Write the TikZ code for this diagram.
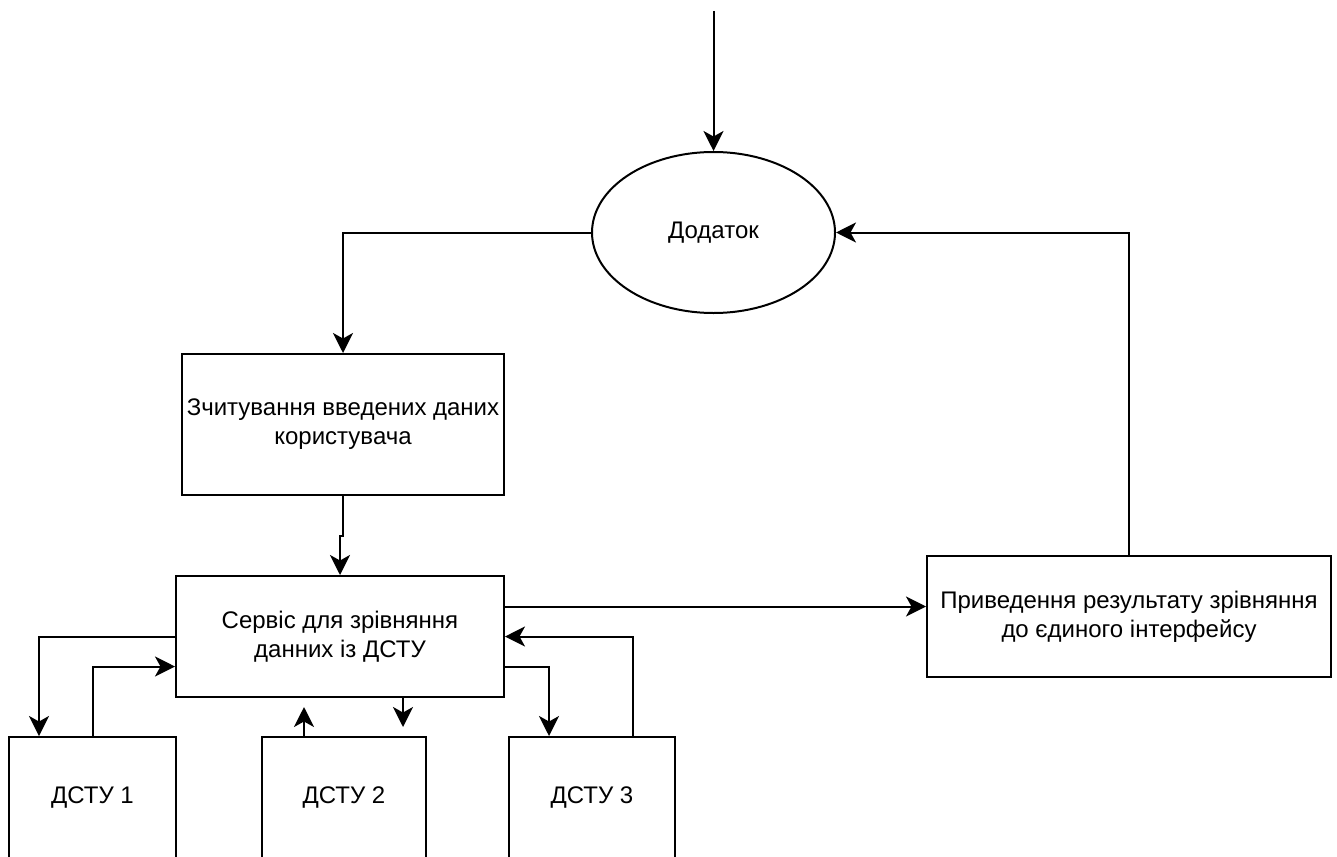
\documentclass[tikz,border=0pt]{standalone}
\usepackage{fontspec}
\setmainfont{Liberation Sans}
\usetikzlibrary{arrows.meta,shapes.geometric,calc}
\begin{document}
\begin{tikzpicture}[x=1pt,y=-1pt,
  every node/.style={font=\fontsize{24}{29}\selectfont},
  block/.style={draw, line width=2pt, rectangle, inner sep=0pt, align=center},
  oval/.style={draw, line width=2pt, ellipse, inner sep=0pt},
  link/.style={line width=2pt, -{Stealth[length=20pt,width=20pt,inset=5.5pt]}},
  wire/.style={line width=2pt}]
  \useasboundingbox (0,0) rectangle (1337,856);

  % main blocks
  \node[oval, minimum width=243pt, minimum height=161pt] (app) at (713.5,232.5) {Додаток};
  \node[block, minimum width=322pt, minimum height=141pt] (read) at (343,424.5)
    {Зчитування введених даних\\користувача};
  \node[block, minimum width=328pt, minimum height=121pt] (serv) at (340,636.5)
    {Сервіс для зрівняння\\данних із ДСТУ};
  \node[block, minimum width=404pt, minimum height=121pt] (res) at (1129,616.5)
    {Приведення результату зрівняння\\до єдиного інтерфейсу};

  % standards
  \node[block, minimum width=167pt, minimum height=121pt] (d1) at (92.5,797.5) {ДСТУ 1};
  \node[block, minimum width=164pt, minimum height=121pt] (d2) at (344,797.5) {ДСТУ 2};
  \node[block, minimum width=166pt, minimum height=121pt] (d3) at (592,797.5) {ДСТУ 3};

  % free ends
  \coordinate (start) at (713.5,11);
  \coordinate (u2) at (304,707);
  \coordinate (v2) at (403,727);
  \coordinate (mid) at ($(read.south)!0.5!(serv.north)$);

  % flow
  \draw[link] (start) -- (app.north);
  \draw[link] (app.west) -| (read.north);
  \draw[link] (read.south) -- (read.south |- mid) -- (serv.north |- mid) -- (serv.north);
  \draw[link] ([yshift=30pt]serv.east) -- ([yshift=30pt]serv.east -| res.west);
  \draw[link] (res.north) |- (app.east);

  % exchange with the standards
  \draw[link] (serv.west) -| ([xshift=31pt]d1.north west);
  \draw[link] (d1.north) |- ([yshift=-30pt]serv.west);
  \draw[link] (d2.north -| u2) -- (u2);
  \draw[link] (serv.south -| v2) -- (v2);
  \draw[link] ([yshift=-30pt]serv.east) -| ([xshift=41pt]d3.north west);
  \draw[link] ([xshift=125pt]d3.north west) |- (serv.east);
\end{tikzpicture}
\end{document}
